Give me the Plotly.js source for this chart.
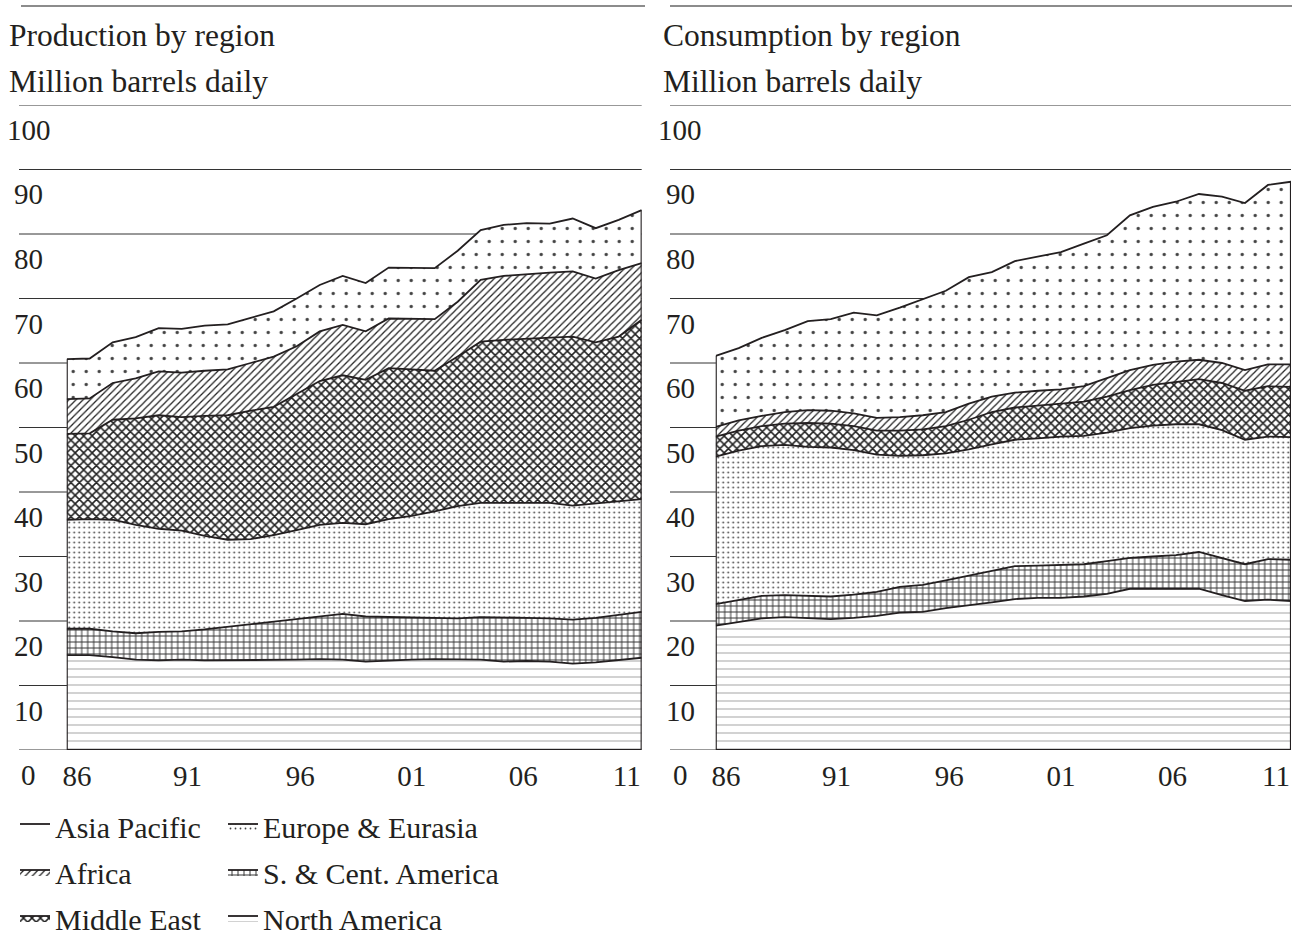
<!DOCTYPE html>
<html><head><meta charset="utf-8">
<script src="https://cdn.plot.ly/plotly-3.0.1.min.js"></script>
<style>html,body{margin:0;padding:0;background:#fff}#chart{width:1301px;height:940px}</style>
</head><body><div id="chart"></div>
<script>
// ---- data (million barrels daily) ----
const years = [1986,1987,1988,1989,1990,1991,1992,1993,1994,1995,1996,1997,1998,1999,2000,2001,2002,2003,2004,2005,2006,2007,2008,2009,2010,2011];
const xTickYears = [1986,1991,1996,2001,2006,2011];
const xTickLabels = ['86','91','96','01','06','11'];
const yTickValues = [0,10,20,30,40,50,60,70,80,90,100];

const prodNorthAmerica = [14.7,14.7,14.4,14.0,13.9,14.0,13.9,13.9,13.9,13.9,14.0,14.1,14.0,13.7,13.9,14.0,14.1,14.1,14.0,13.7,13.8,13.7,13.4,13.6,13.9,14.3];
const prodSCAmerica    = [4.1,4.1,4.0,4.1,4.4,4.4,4.8,5.2,5.6,6.0,6.3,6.7,7.1,7.0,6.7,6.5,6.4,6.3,6.6,6.9,6.7,6.7,6.8,6.9,7.0,7.1];
const prodEurope       = [16.9,17.0,17.3,16.8,16.0,15.6,14.5,13.5,13.2,13.4,13.8,14.1,14.1,14.3,15.2,15.8,16.5,17.4,17.7,17.7,17.8,17.9,17.7,17.7,17.7,17.5];
const prodMiddleEast   = [13.3,13.3,15.5,16.5,17.6,17.6,18.6,19.3,19.9,19.9,21.1,22.3,22.9,22.4,23.4,22.7,21.8,23.2,25.0,25.3,25.5,25.6,26.2,25.0,25.5,27.8];
const prodAfrica       = [5.4,5.4,5.7,6.2,6.8,6.9,7.0,7.1,7.4,7.8,7.4,7.7,7.8,7.5,7.7,7.9,8.0,8.5,9.6,9.9,10.0,10.1,10.1,9.9,10.3,8.8];
const prodAsiaPacific  = [6.2,6.2,6.3,6.4,6.7,6.8,7.0,7.0,7.0,7.0,7.4,7.2,7.6,7.5,7.9,7.9,7.9,7.9,7.7,7.9,7.9,7.6,8.2,7.8,7.8,8.2];

const consNorthAmerica = [19.3,19.8,20.4,20.6,20.5,20.3,20.5,20.8,21.3,21.4,22.0,22.4,22.9,23.4,23.6,23.6,23.8,24.2,25.0,25.0,25.0,25.0,24.0,23.1,23.3,23.1];
const consSCAmerica    = [3.3,3.5,3.5,3.4,3.4,3.5,3.6,3.7,4.0,4.2,4.3,4.6,4.9,5.1,5.0,5.1,5.0,5.1,4.8,5.0,5.2,5.7,5.7,5.7,6.3,6.4];
const consEurope       = [22.9,23.1,23.2,23.3,23.1,23.1,22.4,21.3,20.3,20.1,19.7,19.6,19.6,19.6,19.7,19.9,19.9,19.9,20.1,20.3,20.3,19.8,19.9,19.3,19.0,19.0];
const consMiddleEast   = [3.1,3.1,3.1,3.3,3.7,3.7,3.7,3.7,3.9,4.0,4.2,4.6,5.0,5.0,5.1,5.1,5.3,5.6,5.9,6.3,6.6,7.0,7.3,7.6,7.8,7.8];
const consAfrica       = [1.5,1.6,1.6,1.8,2.0,2.0,2.0,2.0,2.1,2.2,2.2,2.5,2.4,2.3,2.3,2.2,2.4,2.8,3.1,3.1,3.1,3.0,3.1,3.2,3.4,3.5];
const consAsiaPacific  = [11.0,11.2,12.1,12.7,13.8,14.2,15.6,15.9,17.0,18.0,18.8,19.6,19.3,20.4,20.8,21.3,22.1,22.2,24.0,24.5,24.8,25.7,25.8,25.9,27.8,28.3];

// ---- styling ----
const W = 1301, H = 940;
const px = v => v / W;
const py = v => 1 - v / H;
const FONT = '"Liberation Serif", "Times New Roman", Times, serif';
const INK = '#231f20';

const regions = [
  {name:'North America',       prod:prodNorthAmerica, cons:consNorthAmerica, legend:'legend2', rank:3,
   pat:{shape:'-', size:8, solidity:0.13, fgcolor:'#a8a8a8'}},
  {name:'S. & Cent. America',  prod:prodSCAmerica,    cons:consSCAmerica,    legend:'legend2', rank:2,
   pat:{shape:'+', size:6, solidity:0.3, fgcolor:'#333'}},
  {name:'Europe & Eurasia',    prod:prodEurope,       cons:consEurope,       legend:'legend2', rank:1,
   pat:{shape:'.', size:5, solidity:0.1, fgcolor:'#444'}},
  {name:'Middle East',         prod:prodMiddleEast,   cons:consMiddleEast,   legend:'legend', rank:3,
   pat:{shape:'x', size:6, solidity:0.45, fgcolor:'#222'}},
  {name:'Africa',              prod:prodAfrica,       cons:consAfrica,       legend:'legend', rank:2,
   pat:{shape:'/', size:5, solidity:0.25, fgcolor:'#222'}},
  {name:'Asia Pacific',        prod:prodAsiaPacific,  cons:consAsiaPacific,  legend:'legend', rank:1,
   pat:{shape:'.', size:13, solidity:0.05, fgcolor:'#444'}}
];

const traces = [];
function addPanel(key, xa, ya, showLegend) {
  regions.forEach(r => {
    traces.push({
      type:'scatter', mode:'lines', x:years, y:r[key], name:r.name,
      stackgroup:key, xaxis:xa, yaxis:ya, legendgroup:r.name, legendrank:r.rank,
      line:{color:INK, width:1.8},
      fillcolor:'#ffffff',
      fillpattern:Object.assign({fillmode:'replace', bgcolor:'#ffffff'}, r.pat),
      legend:r.legend, showlegend:showLegend, hoverinfo:'skip'
    });
  });
  const total = years.map((_, i) => regions.reduce((s, r) => s + r[key][i], 0));
  const n = years.length - 1;
  traces.push({
    type:'scatter', mode:'lines', xaxis:xa, yaxis:ya, showlegend:false, hoverinfo:'skip',
    x:[years[0], years[0], years[n], years[n]],
    y:[total[0], 0, 0, total[n]],
    line:{color:INK, width:2.2}
  });
}
addPanel('prod', 'x', 'y', true);
addPanel('cons', 'x2', 'y2', false);

const tickShift = [0.45, 0.25, 0.15, 0, -0.15, -0.65];
const tickvals = xTickYears.map((y, i) => y + tickShift[i]);

function xAxis(d0, d1, anchor) {
  return {domain:[px(d0), px(d1)], range:[years[0], years[years.length-1]], anchor:anchor,
    showgrid:false, zeroline:false, showline:false, ticks:'', ticklabelstandoff:6,
    tickmode:'array', tickvals:tickvals, ticktext:xTickLabels, automargin:false,
    tickfont:{family:FONT, size:29, color:INK}, fixedrange:true};
}
function yAxis(anchor) {
  return {domain:[py(750), py(105)], range:[0, 100], anchor:anchor, automargin:false,
    showgrid:false, zeroline:false, showline:false, showticklabels:false, ticks:'', fixedrange:true};
}

const panels = [
  {yref:'y',  gx0:19,  plotR:641.7, topX0:21,  topX1:645,  labelX:28.5,
   title:'Production by region', titleX:7},
  {yref:'y2', gx0:670, plotR:1291,  topX0:670, topX1:1292, labelX:680,
   title:'Consumption by region', titleX:661}
];

const shapes = [], annotations = [];
panels.forEach(p => {
  yTickValues.forEach(v => {
    shapes.push({type:'line', xref:'paper', yref:p.yref, x0:px(p.gx0), x1:px(p.plotR), y0:v, y1:v,
      line:{color:'#333', width:1}, layer:'below'});
    annotations.push({xref:'paper', yref:p.yref, x:px(p.labelX), y:v, yshift:-25, text:String(v),
      showarrow:false, xanchor:'center', yanchor:'middle', font:{family:FONT, size:29, color:INK}});
  });
  shapes.push({type:'line', xref:'paper', yref:'paper', x0:px(p.topX0), x1:px(p.topX1), y0:py(6), y1:py(6),
    line:{color:'#8c8c8c', width:2}});
  annotations.push({xref:'paper', yref:'paper', x:px(p.titleX), y:py(36), text:p.title, showarrow:false,
    xanchor:'left', yanchor:'middle', font:{family:FONT, size:31.5, color:INK}});
  annotations.push({xref:'paper', yref:'paper', x:px(p.titleX), y:py(82), text:'Million barrels daily', showarrow:false,
    xanchor:'left', yanchor:'middle', font:{family:FONT, size:31.5, color:INK}});
});

const legendBase = {xanchor:'left', yanchor:'top', traceorder:'grouped', bgcolor:'rgba(0,0,0,0)',
  borderwidth:0, font:{family:FONT, size:30, color:INK}, itemwidth:30, tracegroupgap:4,
  orientation:'v', itemclick:false, itemdoubleclick:false};

const layout = {
  width:W, height:H, margin:{l:0, r:0, t:0, b:0, autoexpand:false},
  paper_bgcolor:'#ffffff', plot_bgcolor:'rgba(0,0,0,0)',
  showlegend:true,
  xaxis:xAxis(66.7, 641.7, 'y'), yaxis:yAxis('x'),
  xaxis2:xAxis(715.7, 1291, 'y2'), yaxis2:yAxis('x2'),
  legend:Object.assign({}, legendBase, {x:px(15), y:py(800)}),
  legend2:Object.assign({}, legendBase, {x:px(223), y:py(800)}),
  shapes:shapes, annotations:annotations
};

Plotly.newPlot('chart', traces, layout, {displayModeBar:false, staticPlot:true});
</script></body></html>
